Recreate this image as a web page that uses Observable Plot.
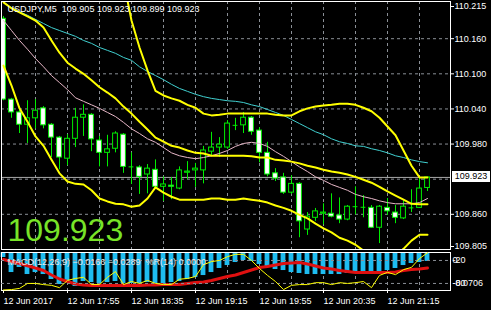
<!DOCTYPE html>
<html><head><meta charset="utf-8">
<script src="https://cdn.jsdelivr.net/npm/d3@7"></script>
<script src="https://cdn.jsdelivr.net/npm/@observablehq/plot@0.6"></script>
<style>
html,body{margin:0;padding:0;background:#000;}
#wrap{position:relative;width:491px;height:310px;background:#000;overflow:hidden;font-family:"Liberation Sans",Arial,sans-serif;}
#wrap svg{position:absolute;left:0;}
#pbox{position:absolute;left:452px;width:38px;height:11px;background:#fff;color:#000;font:9px "Liberation Sans",Arial,sans-serif;line-height:11px;text-align:center;}
</style></head><body><div id="wrap"></div>
<script>
const symbol = "USDJPY,M5";
const timeLabels = ["12 Jun 2017","12 Jun 17:55","12 Jun 18:35","12 Jun 19:15","12 Jun 19:55","12 Jun 20:35","12 Jun 21:15"];
const timeTickBars = [0,8,16,24,32,40,48];
const gridBars = [4,8,12,16,20,24,28,32,36,40,44,48,52];
const priceTicks = [110.215,110.160,110.100,110.040,109.980,109.860,109.805];
const priceGrid = [110.160,110.100,110.040,109.980,109.920,109.860];
const wprLevels = [-20,-80];

const open  = [110.194,110.056,110.034,110.013,110.024,110.041,110.013,109.991,109.955,109.989,110.025,110.030,109.986,109.965,109.972,109.996,109.941,109.940,109.928,109.936,109.907,109.909,109.904,109.931,109.935,109.935,109.967,109.974,109.974,110.012,110.012,110.025,110.003,109.965,109.930,109.923,109.897,109.912,109.834,109.854,109.861,109.861,109.858,109.851,109.873,109.872,109.871,109.837,109.871,109.863,109.853,109.871,109.871,109.905];
const high  = [110.198,110.058,110.044,110.054,110.056,110.044,110.015,109.993,109.996,110.041,110.047,110.032,109.993,109.995,110.001,109.998,109.965,109.943,109.945,109.953,109.924,109.923,109.941,109.950,109.947,109.976,110.000,109.991,110.020,110.024,110.034,110.027,110.008,109.983,109.938,109.930,109.926,109.914,109.863,109.870,109.878,109.895,109.888,109.875,109.907,109.892,109.875,109.875,109.887,109.875,109.883,109.902,109.923,109.923];
const low   = [110.054,110.024,109.998,109.981,110.006,110.006,109.957,109.936,109.943,109.974,109.993,109.967,109.941,109.941,109.965,109.930,109.911,109.894,109.895,109.904,109.882,109.885,109.902,109.919,109.906,109.912,109.959,109.957,109.971,110.003,109.998,109.995,109.948,109.924,109.916,109.894,109.894,109.820,109.824,109.848,109.842,109.854,109.844,109.849,109.859,109.854,109.836,109.810,109.858,109.844,109.851,109.863,109.870,109.899];
const close = [110.056,110.034,110.013,110.024,110.037,110.012,109.991,109.957,109.989,110.025,110.030,109.988,109.965,109.971,109.998,109.941,109.940,109.924,109.938,109.907,109.911,109.907,109.935,109.933,109.938,109.969,109.974,109.979,110.015,110.013,110.025,110.001,109.965,109.928,109.921,109.897,109.912,109.848,109.856,109.865,109.863,109.856,109.851,109.873,109.872,109.873,109.837,109.873,109.865,109.854,109.873,109.872,109.904,109.923];

const maSlow = [110.222,110.213,110.206,110.200,110.193,110.186,110.179,110.174,110.169,110.164,110.157,110.152,110.145,110.140,110.135,110.128,110.123,110.112,110.104,110.097,110.090,110.082,110.075,110.070,110.065,110.061,110.058,110.056,110.054,110.053,110.051,110.047,110.044,110.039,110.034,110.029,110.022,110.015,110.008,110.001,109.996,109.989,109.984,109.981,109.977,109.976,109.972,109.969,109.965,109.960,109.957,109.953,109.950,109.948];
const maFast = [110.191,110.174,110.157,110.142,110.126,110.112,110.097,110.085,110.073,110.059,110.053,110.047,110.041,110.034,110.027,110.017,110.006,109.998,109.989,109.983,109.974,109.965,109.960,109.957,109.955,109.957,109.960,109.964,109.969,109.976,109.981,109.983,109.981,109.976,109.967,109.959,109.950,109.941,109.933,109.924,109.918,109.911,109.906,109.901,109.894,109.890,109.887,109.883,109.880,109.878,109.878,109.878,109.880,109.887];
const bbMid = [110.222,110.212,110.205,110.198,110.191,110.179,110.157,110.136,110.119,110.109,110.100,110.089,110.077,110.068,110.058,110.044,110.032,110.018,110.005,109.991,109.984,109.977,109.974,109.969,109.965,109.964,109.960,109.960,109.960,109.960,109.960,109.959,109.957,109.957,109.953,109.952,109.950,109.947,109.943,109.940,109.936,109.933,109.931,109.928,109.924,109.919,109.914,109.907,109.899,109.892,109.885,109.878,109.877,109.877];
const bbUpper = [110.330,110.343,110.369,110.377,110.389,110.381,110.360,110.343,110.323,110.306,110.290,110.277,110.266,110.277,110.285,110.259,110.191,110.145,110.106,110.071,110.063,110.058,110.054,110.047,110.042,110.032,110.029,110.030,110.032,110.032,110.032,110.032,110.032,110.032,110.030,110.029,110.029,110.036,110.041,110.044,110.046,110.047,110.049,110.049,110.047,110.042,110.036,110.025,110.010,109.995,109.969,109.943,109.923,109.923];
const bbLower = [110.114,110.080,110.041,110.018,109.993,109.977,109.953,109.930,109.916,109.912,109.911,109.901,109.887,109.882,109.878,109.877,109.873,109.875,109.887,109.906,109.897,109.890,109.885,109.885,109.885,109.885,109.887,109.887,109.885,109.885,109.887,109.885,109.883,109.880,109.875,109.871,109.866,109.859,109.853,109.844,109.836,109.829,109.820,109.815,109.808,109.798,109.788,109.784,109.786,109.789,109.801,109.815,109.825,109.825];

const macdMain = [-0.0093,-0.0372,-0.0279,-0.0409,-0.0372,-0.0409,-0.0502,-0.0595,-0.0558,-0.0632,-0.0539,-0.0558,-0.0576,-0.0558,-0.0539,-0.0576,-0.0576,-0.0576,-0.0558,-0.0576,-0.0576,-0.0558,-0.0539,-0.0502,-0.0465,-0.0428,-0.0372,-0.0297,-0.0242,-0.0186,-0.0149,-0.0167,-0.0223,-0.0279,-0.0316,-0.0335,-0.0372,-0.0390,-0.0409,-0.0409,-0.0409,-0.0409,-0.0409,-0.0390,-0.0372,-0.0372,-0.0390,-0.0372,-0.0335,-0.0297,-0.0242,-0.0204,-0.0186,-0.0166];
const macdSignal = [-0.0130,-0.0167,-0.0204,-0.0247,-0.0288,-0.0335,-0.0418,-0.0493,-0.0539,-0.0586,-0.0604,-0.0613,-0.0613,-0.0613,-0.0613,-0.0613,-0.0613,-0.0613,-0.0604,-0.0604,-0.0595,-0.0595,-0.0595,-0.0576,-0.0558,-0.0548,-0.0520,-0.0483,-0.0446,-0.0418,-0.0372,-0.0325,-0.0279,-0.0260,-0.0232,-0.0204,-0.0195,-0.0186,-0.0214,-0.0251,-0.0288,-0.0307,-0.0335,-0.0353,-0.0372,-0.0372,-0.0372,-0.0372,-0.0372,-0.0363,-0.0335,-0.0316,-0.0307,-0.0289];
const wpr = [-97,-96,-93,-80,-80,-83,-85,-91,-72,-67,-64,-83,-83,-64,-49,-83,-75,-80,-72,-80,-83,-83,-69,-67,-62,-31,-23,-20,-10,-4,-4,-20,-41,-59,-75,-96,-85,-83,-83,-78,-78,-83,-78,-80,-78,-75,-91,-59,-51,-57,-44,-38,-15,0];

const fmt = d3.format(".3f");
const fmt4 = d3.format(".4f");
const n = open.length;
const bars = d3.range(n).map(i => ({i, o: open[i], h: high[i], l: low[i], c: close[i],
  slow: maSlow[i], fast: maFast[i], mid: bbMid[i], up: bbUpper[i], lo: bbLower[i],
  m: macdMain[i], s: macdSignal[i], r: wpr[i]}));
const bodies = bars.filter(d => Math.abs(d.c - d.o) >= 0.0012);
const dojis = bars.filter(d => Math.abs(d.c - d.o) < 0.0012);
const last = bars[n - 1];
const FONT = "Liberation Sans, Arial, sans-serif";
const GRID = "#8a8f96";
const GREEN = "#00ee00";
const HW = 0.3;
const NB = "\u00a0";

const wrap = document.getElementById("wrap");

const main = Plot.plot({
  width: 491, height: 250,
  marginTop: 1, marginLeft: 1, marginRight: 41, marginBottom: 1,
  style: {background: "#000", color: "#fff", fontFamily: FONT, fontSize: "9px"},
  x: {type: "linear", domain: [0, n - 1], range: [3, 427], axis: null},
  y: {domain: [109.805, 110.215], range: [246, 6]},
  marks: [
    Plot.ruleX(gridBars, {x: d => d, stroke: GRID, strokeDasharray: "3,3"}),
    Plot.ruleY(priceGrid, {y: d => d, stroke: GRID, strokeDasharray: "3,3"}),
    Plot.ruleY([last.c], {y: d => d, stroke: "#a8a8a8"}),
    Plot.ruleX(bars, {x: "i", y1: "l", y2: "h", stroke: GREEN, clip: true}),
    Plot.rect(bodies, {x1: d => d.i - HW, x2: d => d.i + HW, y1: "o", y2: "c",
      fill: d => d.c > d.o ? "#000" : "#fff", stroke: GREEN, clip: true}),
    Plot.ruleY(dojis, {y: "o", x1: d => d.i - HW, x2: d => d.i + HW, stroke: GREEN}),
    Plot.line(bars, {x: "i", y: "slow", stroke: "#40d0d0", strokeWidth: 1, clip: true}),
    Plot.line(bars, {x: "i", y: "fast", stroke: "#e8b8c8", strokeWidth: 1, clip: true}),
    Plot.line(bars, {x: "i", y: "up", stroke: "#ffff00", strokeWidth: 2, clip: true}),
    Plot.line(bars, {x: "i", y: "mid", stroke: "#ffff00", strokeWidth: 2, clip: true}),
    Plot.line(bars, {x: "i", y: "lo", stroke: "#ffff00", strokeWidth: 2, clip: true}),
    Plot.axisY({anchor: "right", ticks: priceTicks, tickFormat: fmt, tickSize: 3, tickPadding: 1, label: null, fill: "#fff", stroke: "#fff"}),
    Plot.text([`${symbol}${NB}${NB}${fmt(last.o)} ${fmt(last.h)} ${fmt(last.l)} ${fmt(last.c)}`],
      {frameAnchor: "top-left", dx: 6, dy: 8, text: d => d, textAnchor: "start", lineAnchor: "middle", fill: "#fff", fontSize: 9}),
    Plot.text([fmt(last.c)], {frameAnchor: "bottom-left", dx: 6, dy: -9, text: d => d, textAnchor: "start", lineAnchor: "bottom", fill: "#78e428", fontSize: 32}),
    Plot.frame({stroke: "#fff"})
  ]
});
main.style.top = "0px";
wrap.appendChild(main);

const pbox = document.createElement("div");
pbox.id = "pbox";
pbox.textContent = fmt(last.c);
pbox.style.top = (main.scale("y").apply(last.c) - 5.5) + "px";
wrap.appendChild(pbox);

const macd = Plot.plot({
  width: 491, height: 60,
  marginTop: 2, marginLeft: 1, marginRight: 41, marginBottom: 20,
  style: {background: "#000", color: "#fff", fontFamily: FONT, fontSize: "9px"},
  x: {type: "linear", domain: [0, n - 1], range: [3, 427]},
  y: {domain: [-0.0706, 0], range: [40, 2], axis: null},
  marks: [
    Plot.ruleX(gridBars, {x: d => d, stroke: GRID, strokeDasharray: "3,3"}),
    Plot.rect(bars, {x1: d => d.i - HW, x2: d => d.i + HW, y1: 0, y2: "m", fill: "#1ebcf0"}),
    Plot.line(bars, {x: "i", y: "s", stroke: "#e01010", strokeWidth: 3, clip: true}),
    Plot.axisX({anchor: "bottom", ticks: timeTickBars, tickFormat: d => timeLabels[timeTickBars.indexOf(d)],
      tickSize: 3, tickPadding: 4, textAnchor: "start", label: null, fill: "#fff", stroke: "#fff"}),
    Plot.text(["0"], {frameAnchor: "top-right", dx: 2, dy: 8, text: d => d, textAnchor: "start", lineAnchor: "middle", fill: "#fff"}),
    Plot.text([String(d3.min(macdMain.concat(macdSignal)) < -0.07 ? -0.0706 : -0.0706)], {frameAnchor: "bottom-right", dx: 2, dy: -7, text: d => d, textAnchor: "start", lineAnchor: "middle", fill: "#fff"}),
    Plot.frame({stroke: "#fff"})
  ]
});
macd.style.top = "250px";
wrap.appendChild(macd);

const wprPlot = Plot.plot({
  width: 491, height: 60,
  marginTop: 2, marginLeft: 1, marginRight: 41, marginBottom: 20,
  style: {background: "transparent", color: "#fff", fontFamily: FONT, fontSize: "9px"},
  x: {type: "linear", domain: [0, n - 1], range: [3, 427], axis: null},
  y: {domain: [-100, 0], range: [40.6, 2.3]},
  marks: [
    Plot.ruleY(wprLevels, {y: d => d, stroke: GRID, strokeDasharray: "3,3"}),
    Plot.line(bars, {x: "i", y: "r", stroke: "#ffff00", strokeWidth: 1}),
    Plot.axisY({anchor: "right", ticks: wprLevels, tickFormat: d => String(d), tickSize: 0, tickPadding: 2, label: null, fill: "#fff"}),
    Plot.text([`MACD(12,26,9) ${fmt4(last.m)} ${fmt4(last.s)}${NB}${NB}%R(14) ${fmt4(last.r)}`],
      {frameAnchor: "top-left", dx: 6, dy: 9.5, text: d => d, textAnchor: "start", lineAnchor: "middle", fill: "#e8e8e8", fontSize: 9})
  ]
});
wprPlot.style.top = "250px";
wrap.appendChild(wprPlot);
</script>
</body></html>
